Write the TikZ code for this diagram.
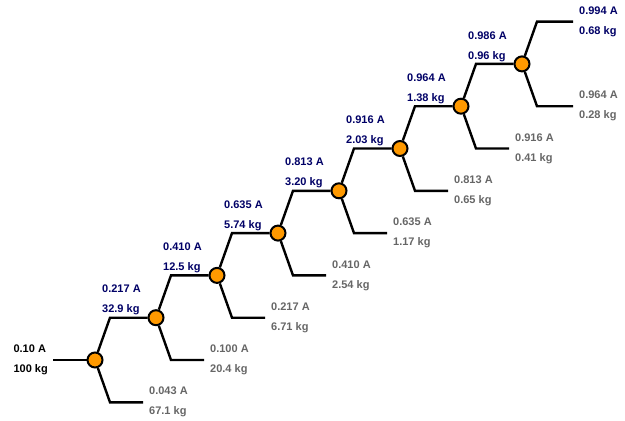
\documentclass[tikz,border=0pt]{standalone}
\usepackage{fontspec}
\setmainfont{Liberation Sans}
\usetikzlibrary{positioning}

\definecolor{junctionorange}{HTML}{FF9900}
\definecolor{passblue}{HTML}{000066}
\definecolor{dropgray}{HTML}{666666}

\begin{document}
\begin{tikzpicture}[x=1pt,y=-1pt,on grid,node distance=42.3pt and 61pt,
  junction/.style={circle,draw,fill=junctionorange,line width=2pt,minimum size=15pt,inner sep=0pt},
  wire/.style={line width=2.4pt},
  lbl/.style={font=\fontsize{11}{20}\selectfont\bfseries,align=left,inner sep=0pt},
  passlbl/.style={lbl,text=passblue,anchor=west,xshift=-8pt,yshift=17.5pt},
  droplbl/.style={lbl,text=dropgray,anchor=west,xshift=6pt}]
\useasboundingbox (0,0) rectangle (625,421);

% junctions
\node[junction] (n1) at (95,360) {};
\node[junction] (n2) [above right=of n1] {};
\node[junction] (n3) [above right=of n2] {};
\node[junction] (n4) [above right=of n3] {};
\node[junction] (n5) [above right=of n4] {};
\node[junction] (n6) [above right=of n5] {};
\node[junction] (n7) [above right=of n6] {};
\node[junction] (n8) [above right=of n7] {};

% corners of the branches
\coordinate[left=42pt of n1] (in);
\coordinate[above right=42.3pt and 15pt of n1] (u1);
\coordinate[above right=42.3pt and 15pt of n2] (u2);
\coordinate[above right=42.3pt and 15pt of n3] (u3);
\coordinate[above right=42.3pt and 15pt of n4] (u4);
\coordinate[above right=42.3pt and 15pt of n5] (u5);
\coordinate[above right=42.3pt and 15pt of n6] (u6);
\coordinate[above right=42.3pt and 15pt of n7] (u7);
\coordinate[above right=42.3pt and 15pt of n8] (u8);
\coordinate[right=36pt of u8] (eu8);

\coordinate[below right=42.3pt and 15pt of n1] (l1);
\coordinate[below right=42.3pt and 15pt of n2] (l2);
\coordinate[below right=42.3pt and 15pt of n3] (l3);
\coordinate[below right=42.3pt and 15pt of n4] (l4);
\coordinate[below right=42.3pt and 15pt of n5] (l5);
\coordinate[below right=42.3pt and 15pt of n6] (l6);
\coordinate[below right=42.3pt and 15pt of n7] (l7);
\coordinate[below right=42.3pt and 15pt of n8] (l8);
\coordinate[right=33pt of l1] (e1);
\coordinate[right=33pt of l2] (e2);
\coordinate[right=33pt of l3] (e3);
\coordinate[right=33pt of l4] (e4);
\coordinate[right=33pt of l5] (e5);
\coordinate[right=33pt of l6] (e6);
\coordinate[right=33pt of l7] (e7);
\coordinate[right=36pt of l8] (e8);

% wires
\draw[wire] (in) -- (n1);
\draw[wire] (n1) -- (u1) -- (n2);
\draw[wire] (n2) -- (u2) -- (n3);
\draw[wire] (n3) -- (u3) -- (n4);
\draw[wire] (n4) -- (u4) -- (n5);
\draw[wire] (n5) -- (u5) -- (n6);
\draw[wire] (n6) -- (u6) -- (n7);
\draw[wire] (n7) -- (u7) -- (n8);
\draw[wire] (n8) -- (u8) -- (eu8);

\draw[wire] (n1) -- (l1) -- (e1);
\draw[wire] (n2) -- (l2) -- (e2);
\draw[wire] (n3) -- (l3) -- (e3);
\draw[wire] (n4) -- (l4) -- (e4);
\draw[wire] (n5) -- (l5) -- (e5);
\draw[wire] (n6) -- (l6) -- (e6);
\draw[wire] (n7) -- (l7) -- (e7);
\draw[wire] (n8) -- (l8) -- (e8);

% labels
\node[lbl,anchor=east,xshift=-5pt] (inlbl) at (in) {0.10 A\\100 kg};

\node[passlbl] (p1) at (u1) {0.217 A\\32.9 kg};
\node[passlbl] (p2) at (u2) {0.410 A\\12.5 kg};
\node[passlbl] (p3) at (u3) {0.635 A\\5.74 kg};
\node[passlbl] (p4) at (u4) {0.813 A\\3.20 kg};
\node[passlbl] (p5) at (u5) {0.916 A\\2.03 kg};
\node[passlbl] (p6) at (u6) {0.964 A\\1.38 kg};
\node[passlbl] (p7) at (u7) {0.986 A\\0.96 kg};
\node[lbl,text=passblue,anchor=west,xshift=6pt] (p8) at (eu8) {0.994 A\\0.68 kg};

\node[droplbl] (d1) at (e1) {0.043 A\\67.1 kg};
\node[droplbl] (d2) at (e2) {0.100 A\\20.4 kg};
\node[droplbl] (d3) at (e3) {0.217 A\\6.71 kg};
\node[droplbl] (d4) at (e4) {0.410 A\\2.54 kg};
\node[droplbl] (d5) at (e5) {0.635 A\\1.17 kg};
\node[droplbl] (d6) at (e6) {0.813 A\\0.65 kg};
\node[droplbl] (d7) at (e7) {0.916 A\\0.41 kg};
\node[droplbl] (d8) at (e8) {0.964 A\\0.28 kg};
\end{tikzpicture}
\end{document}
